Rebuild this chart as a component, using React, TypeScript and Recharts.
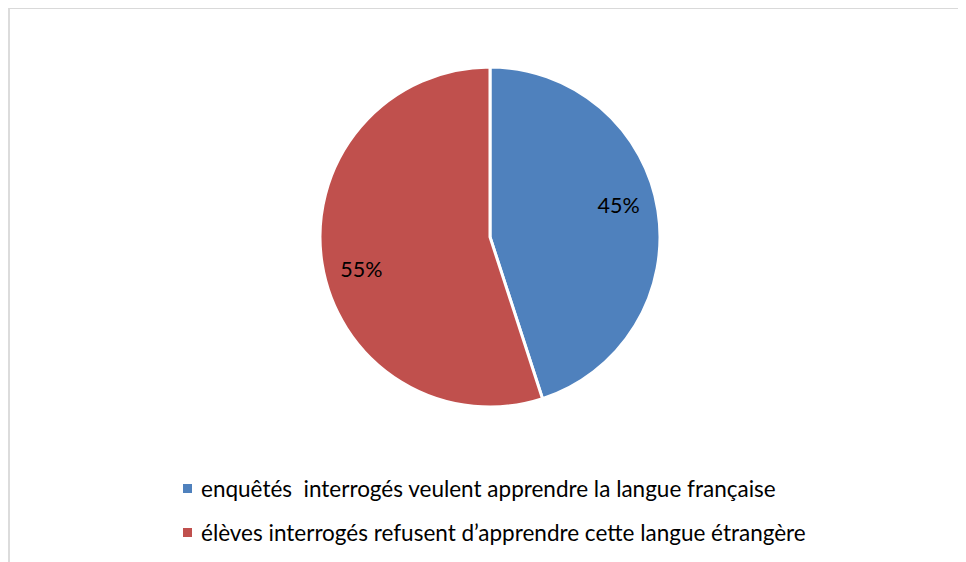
import { PieChart, Pie, Cell, Legend } from 'recharts';

const categories = [
  'enquêtés  interrogés veulent apprendre la langue française',
  'élèves interrogés refusent d’apprendre cette langue étrangère',
];
const shares = [45, 55];
const colors = ['#4F81BD', '#C0504D'];

const data = categories.map((name, i) => ({ name, value: shares[i] }));

const FONT = 'Lato, "Open Sans", sans-serif';
const RAD = Math.PI / 180;

// Excel "best fit" labels sit a little counter-clockwise from the slice middle
const renderLabel = ({ cx, cy, midAngle, outerRadius, value }: any) => {
  const angle = (midAngle + 5) * RAD;
  const r = outerRadius * 0.78;
  const x = cx + r * Math.cos(angle);
  const y = cy - r * Math.sin(angle);
  return (
    <text
      x={x}
      y={y}
      fill="#000"
      fontSize={21.5}
      fontFamily={FONT}
      textAnchor="middle"
      dominantBaseline="central"
    >
      {value}%
    </text>
  );
};

const LegendContent = () => (
  <div style={{ fontFamily: FONT, fontSize: 22.5, color: '#000' }}>
    {data.map((d, i) => (
      <div key={i} style={{ display: 'flex', alignItems: 'center', height: 44 }}>
        <span
          style={{
            display: 'inline-block',
            width: 9,
            height: 9,
            background: colors[i],
            marginRight: 9,
          }}
        />
        <span style={{ whiteSpace: 'pre' }}>{d.name}</span>
      </div>
    ))}
  </div>
);

export default function App() {
  return (
    <div
      style={{
        width: 956,
        height: 553,
        borderTop: '1px solid #d9d9d9',
        borderLeft: '2px solid #dcdcdc',
        background: '#fff',
        overflow: 'hidden',
      }}
    >
      <PieChart width={956} height={553} margin={{ top: 0, right: 0, bottom: 0, left: 0 }}>
        <Pie
          data={data}
          dataKey="value"
          nameKey="name"
          cx={480}
          cy={228}
          outerRadius={170}
          startAngle={90}
          endAngle={-270}
          stroke="#fff"
          strokeWidth={3}
          label={renderLabel}
          labelLine={false}
          isAnimationActive={false}
        >
          {data.map((_, i) => (
            <Cell key={i} fill={colors[i]} />
          ))}
        </Pie>
        <Legend
          content={<LegendContent />}
          wrapperStyle={{ position: 'absolute', left: 173, top: 457, width: 760 }}
        />
      </PieChart>
    </div>
  );
}
